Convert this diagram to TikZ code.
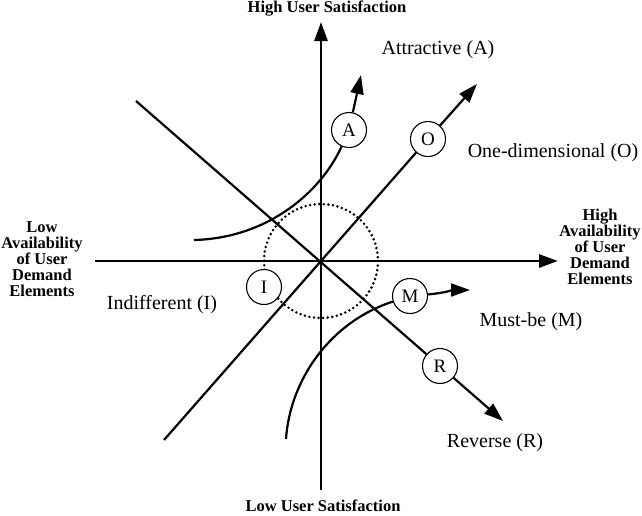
\documentclass[tikz,border=0pt]{standalone}
\usepackage{fontspec}
\setmainfont{Liberation Serif}
\usetikzlibrary{arrows.meta,backgrounds}
\begin{document}
\begin{tikzpicture}[x=1pt,y=-1pt,
  axis/.style={line width=2.8pt},
  curveline/.style={line width=2.2pt},
  tipped/.style={-{Triangle[length=19pt,width=13pt]}},
  cat/.style={circle,draw,line width=1.1pt,fill=white,minimum size=35pt,inner sep=0pt,font=\fontsize{19}{19}\selectfont},
  axlabel/.style={font=\fontsize{16.5}{16}\selectfont\bfseries,align=center,inner sep=0pt},
  catlabel/.style={font=\fontsize{20}{20}\selectfont,inner sep=0pt},
  dotcircle/.style={line width=2.8pt,line cap=round,dash pattern=on 0pt off 4.6pt},
]
\useasboundingbox (0,0) rectangle (642,515);
% positions
\coordinate (O0) at (321,261);
\coordinate (vbot) at (321,490);
\coordinate (vtop) at (321,22);
\coordinate (hl) at (95,261);
\coordinate (hr) at (558,261);
\coordinate (ostart) at (164,440);
\coordinate (otip) at (477,84);
\coordinate (rstart) at (136,101);
\coordinate (rtip) at (503,421);
\coordinate (astart) at (194,240);
\coordinate (atip) at (361,75);
\coordinate (mstart) at (286,439);
\coordinate (mtip) at (470,290);
% category circles
\node[cat] (A) at (349,130) {A};
\node[cat] (O) at (428,139) {O};
\node[cat] (I) at (264,287) {I};
\node[cat] (M) at (410,296) {M};
\node[cat] (R) at (440,366) {R};
% axes
\draw[axis,tipped] (vbot) -- (vtop);
\draw[axis,tipped] (hl) -- (hr);
% lines and curves
\draw[curveline] (ostart) -- (O);
\draw[curveline,tipped] (O) -- (otip);
\draw[curveline] (rstart) -- (R);
\draw[curveline,tipped] (R) -- (rtip);
\draw[curveline] (astart) .. controls (270,238) and (322,190) .. (A);
\draw[curveline,tipped] (A) -- (atip);
\draw[curveline] (mstart) .. controls (290,380) and (330,322) .. (M);
\draw[curveline,tipped] (M) to[out=5,in=180] (mtip);
% background: white page and dotted circle
\begin{scope}[on background layer]
  \fill[white] (0,0) rectangle (642,515);
  \draw[dotcircle] (O0) circle[radius=57];
\end{scope}
% labels
\node[axlabel] (hus) at (327,9) {High User Satisfaction};
\node[axlabel] (lus) at (323,506) {Low User Satisfaction};
\node[axlabel] (lowav) at (42,259) {Low\\Availability\\of User\\Demand\\Elements};
\node[axlabel] (highav) at (600,247) {High\\Availability\\of User\\Demand\\Elements};
\node[catlabel] (latt) at (438,50) {Attractive (A)};
\node[catlabel] (lone) at (553,153) {One-dimensional (O)};
\node[catlabel] (lind) at (162,305) {Indifferent (I)};
\node[catlabel] (lmust) at (531,322) {Must-be (M)};
\node[catlabel] (lrev) at (495,443) {Reverse (R)};
\end{tikzpicture}
\end{document}
